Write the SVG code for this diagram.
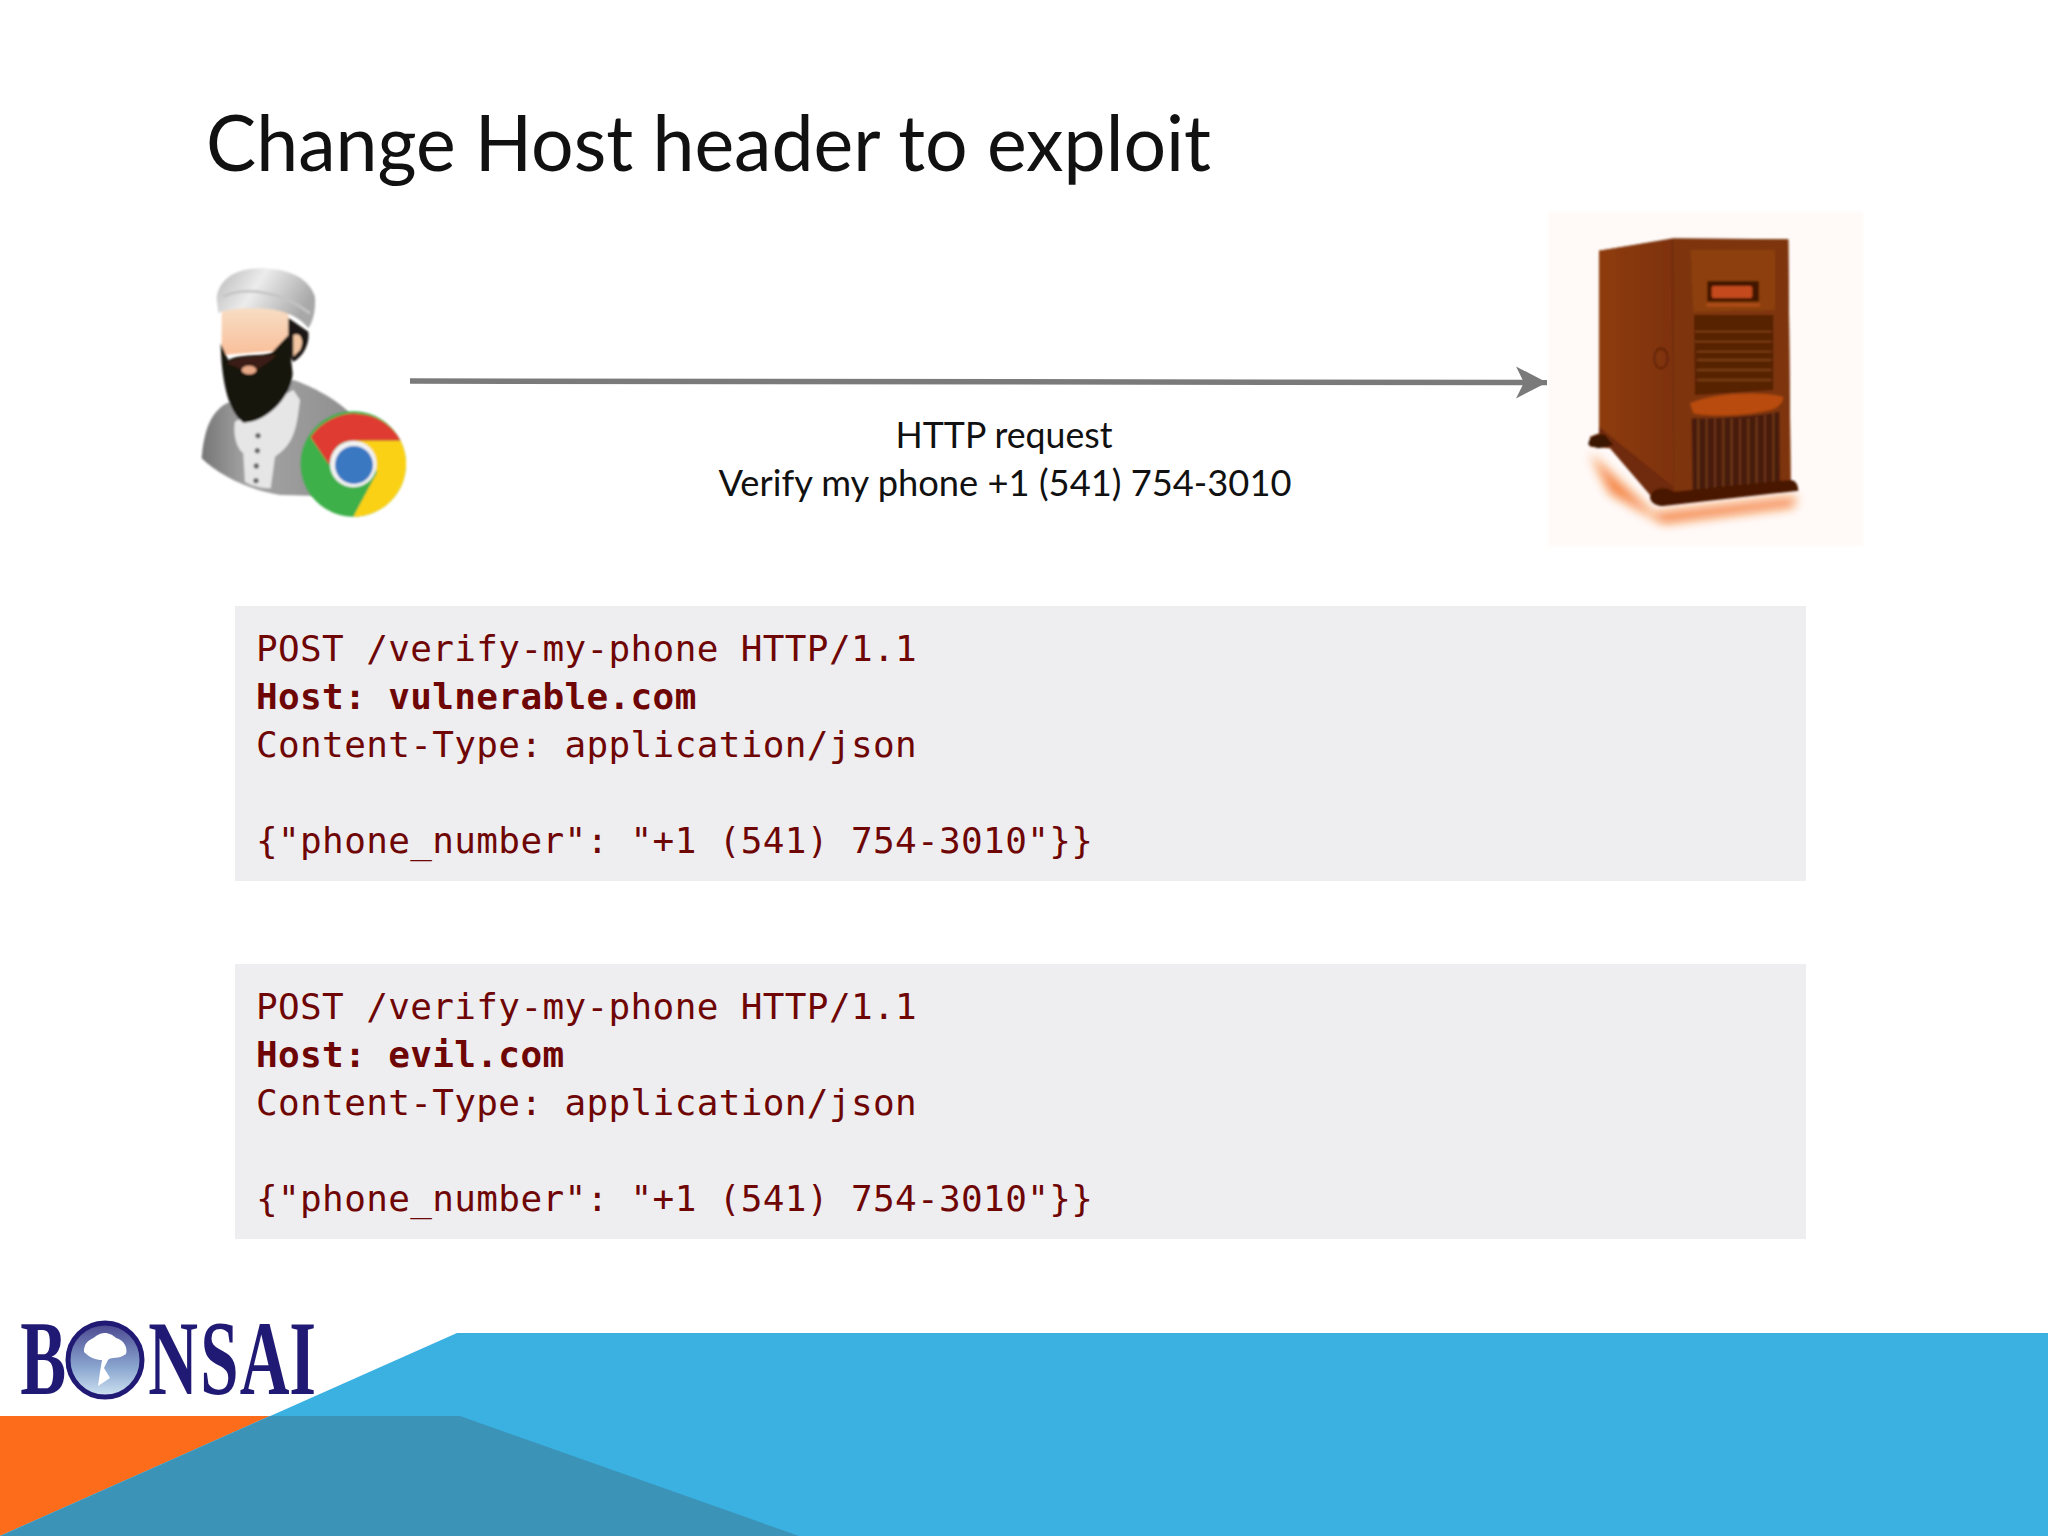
<svg xmlns="http://www.w3.org/2000/svg" width="2048" height="1536" viewBox="0 0 2048 1536">
<style>
.code{font-family:"DejaVu Sans Mono","Liberation Mono",monospace;font-size:36px;fill:#6e0606;letter-spacing:.36px;white-space:pre}
.b{font-weight:bold}
.lbl{font-family:Lato,"Open Sans",sans-serif;font-size:36px;fill:#111;text-anchor:middle}
.box{fill:#eeedef}
</style>
<defs>
<marker id="ah" markerUnits="userSpaceOnUse" markerWidth="36" markerHeight="36" refX="31" refY="17" orient="auto"><path d="M0 1L31 17L0 33L8 17Z" fill="#7a7a7a"/></marker>
<filter id="s1"><feGaussianBlur stdDeviation="2.4"/></filter>
<filter id="s3" x="-10%" y="-10%" width="120%" height="120%"><feGaussianBlur stdDeviation="3.5"/></filter>
<filter id="s2" x="-30%" y="-30%" width="160%" height="160%"><feGaussianBlur stdDeviation="16"/></filter>
<filter id="s4"><feGaussianBlur stdDeviation=".7"/></filter>
<linearGradient id="turban" x1="0" y1="0" x2="1" y2="0.4"><stop offset="0" stop-color="#b8b8b8"/><stop offset=".45" stop-color="#ececec"/><stop offset="1" stop-color="#a8a8a8"/></linearGradient>
<linearGradient id="face" x1="0" y1="0" x2="0" y2="1"><stop offset="0" stop-color="#f8e0c8"/><stop offset="1" stop-color="#f9bf9a"/></linearGradient>
<linearGradient id="robe" x1="0" y1="0" x2="1" y2="0"><stop offset="0" stop-color="#777"/><stop offset=".3" stop-color="#a4a4a4"/><stop offset="1" stop-color="#8f8f8f"/></linearGradient>
<linearGradient id="srv" x1="0" y1="0" x2="1" y2="0"><stop offset="0" stop-color="#8e3c0e"/><stop offset="1" stop-color="#7e320a"/></linearGradient>
<linearGradient id="tree" x1="0" y1="0" x2="0" y2="1"><stop offset="0" stop-color="#4a4690"/><stop offset=".6" stop-color="#8aa6cf"/><stop offset="1" stop-color="#d0e4f2"/></linearGradient>
</defs>
<rect width="2048" height="1536" fill="#fff"/>
<g id="footer">
<path d="M0 1416H270L0 1536Z" fill="#fc6c1b"/>
<path d="M0 1536L457 1333H2048V1536Z" fill="#3bb1e2"/>
<path d="M0 1536L270 1416H460L799 1536Z" fill="#3b94b8"/>
</g>
<g id="title"><text x="206" y="171" font-family="Lato,'Open Sans',sans-serif" font-size="77" fill="#111" textLength="1005" lengthAdjust="spacingAndGlyphs">Change Host header to exploit</text></g>
<g id="user" transform="translate(180 240) scale(.3333)">
<g filter="url(#s3)">
<path d="M65 655C70 590 85 520 140 490L340 420C400 440 470 480 505 515L520 770L300 765C200 750 110 700 65 655Z" fill="url(#robe)"/>
<path d="M165 545L340 450L360 480C350 560 345 610 285 650L272 745C240 745 210 735 195 725L190 640C165 620 160 575 165 545Z" fill="#e6e6e6"/>
<circle cx="234" cy="587" r="8" fill="#666"/><circle cx="232" cy="632" r="8" fill="#666"/><circle cx="229" cy="678" r="8" fill="#666"/><circle cx="228" cy="722" r="8" fill="#666"/>
<path d="M320 230L385 275C390 310 370 350 340 365L300 300Z" fill="#1d1512"/>
<path d="M340 285C360 275 375 300 360 330L340 350Z" fill="#f3c6a2"/>
<path d="M125 190H325V330L125 345Z" fill="url(#face)"/>
<path d="M122 310L145 360C180 340 240 350 275 338L325 285L338 400C335 470 260 548 190 548C150 520 125 440 122 310Z" fill="#17130f"/>
<path d="M140 370C175 345 245 350 290 345C260 375 240 380 228 395C220 410 195 410 185 390C170 380 155 378 140 370Z" fill="#3a1f12"/>
<ellipse cx="207" cy="390" rx="22" ry="13" fill="#e8a987"/>
<path d="M110 175C115 120 165 85 240 85C320 85 385 110 405 170C408 220 395 250 385 265C350 220 290 205 220 205C170 205 130 210 115 220Z" fill="url(#turban)"/>
<path d="M130 170C190 140 300 150 390 220" fill="none" stroke="#c4c4c4" stroke-width="8"/>
</g>
<g filter="url(#s3)">
<circle cx="520" cy="672" r="158" fill="#3eb04a"/>
<path d="M392 592A158 158 0 0 1 662 602L520 602C480 602 455 625 448 675Z" fill="#df3a32"/>
<path d="M662 602A158 158 0 0 1 520 830L590 700L580 640L520 602Z" fill="#fbd116"/>
<circle cx="520" cy="672" r="70" fill="#f2f2f2"/>
<circle cx="522" cy="675" r="57" fill="#3b78c2"/>
</g>
</g>
<g id="server" transform="translate(1530 200) scale(.3333)">
<rect x="55" y="35" width="945" height="1005" fill="#fffaf8" filter="url(#s1)"/>
<path d="M180 760L370 940L800 890L790 920L400 970L240 880Z" fill="#f2640f" opacity=".8" filter="url(#s2)"/>
<g filter="url(#s3)">
<path d="M207 152L430 115L775 118L782 840L805 870L400 915L360 885L240 745L180 740L180 710L207 700Z" fill="#6f2b08"/>
<path d="M207 152L425 118L430 860L207 680Z" fill="url(#srv)"/>
<path d="M430 118H775L782 850L432 875Z" fill="#7e340b"/>
<path d="M482 150L735 150L735 330L490 335Z" fill="#8d400e"/>
<rect x="532" y="243" width="155" height="62" fill="#421704"/>
<rect x="545" y="258" width="122" height="36" rx="6" fill="#c4491a"/>
<path d="M530 310H690V320H530Z" fill="#ad4b17"/>
<path d="M492 345H730V570L495 585Z" fill="#572106"/>
<path d="M495 395H725M495 425H725M500 455H725M500 480H725M500 510H725M500 540H725" stroke="#8a471b" stroke-width="4"/>
<path d="M480 610C560 575 690 575 760 590C760 610 740 625 720 630C640 650 530 650 490 640Z" fill="#b84c10"/>
<path d="M485 655C570 655 680 650 748 635L750 860L488 870Z" fill="#471c07"/>
<path d="M505 655V868M530 655V868M555 655V868M580 655V866M605 655V866M630 655V865M655 655V865M680 650V864M705 645V862M730 640V861" stroke="#7f4120" stroke-width="4"/>
<ellipse cx="393" cy="475" rx="20" ry="30" fill="none" stroke="#5a2206" stroke-width="5"/>
<path d="M175 735C175 710 200 700 225 705L250 735L205 745Z" fill="#3b1304"/>
<path d="M360 890C370 860 410 860 430 875L780 840C800 840 805 860 805 872L400 918C375 918 360 905 360 890Z" fill="#4a1806"/>
</g>
</g>
<g id="connectors"><path d="M410 381L1547 382.5" stroke="#7a7a7a" stroke-width="5.5" fill="none" marker-end="url(#ah)"/></g>
<g id="arrow-label">
<text class="lbl" x="1004" y="448" textLength="217" lengthAdjust="spacingAndGlyphs">HTTP request</text>
<text class="lbl" x="1005" y="496" textLength="573" lengthAdjust="spacingAndGlyphs">Verify my phone +1 (541) 754-3010</text>
</g>
<g id="request-1">
<rect class="box" x="235" y="606" width="1571" height="275"/>
<text class="code" x="256" y="661">POST /verify-my-phone HTTP/1.1</text>
<text class="code b" x="256" y="709">Host: vulnerable.com</text>
<text class="code" x="256" y="757">Content-Type: application/json</text>
<text class="code" x="256" y="853">{"phone_number": "+1 (541) 754-3010"}}</text>
</g>
<g id="request-2">
<rect class="box" x="235" y="964" width="1571" height="275"/>
<text class="code" x="256" y="1019">POST /verify-my-phone HTTP/1.1</text>
<text class="code b" x="256" y="1067">Host: evil.com</text>
<text class="code" x="256" y="1115">Content-Type: application/json</text>
<text class="code" x="256" y="1211">{"phone_number": "+1 (541) 754-3010"}}</text>
</g>
<g id="logo">
<text transform="scale(.65 1)" x="31 123 228 308 369 445" y="1394" font-family="'Liberation Serif',serif" font-weight="bold" font-size="106" fill="#211a75">BONSAI</text>
<circle cx="105" cy="1360" r="37" fill="url(#tree)" stroke="#211a75" stroke-width="5"/>
<path d="M84 1352C84 1340 92 1340 96 1336C104 1330 112 1334 116 1338C124 1340 128 1348 126 1354C118 1360 112 1356 108 1360L104 1368L110 1378L98 1386L100 1372L102 1360C96 1360 90 1358 84 1352Z" fill="#fff" filter="url(#s4)"/>
</g>
</svg>
